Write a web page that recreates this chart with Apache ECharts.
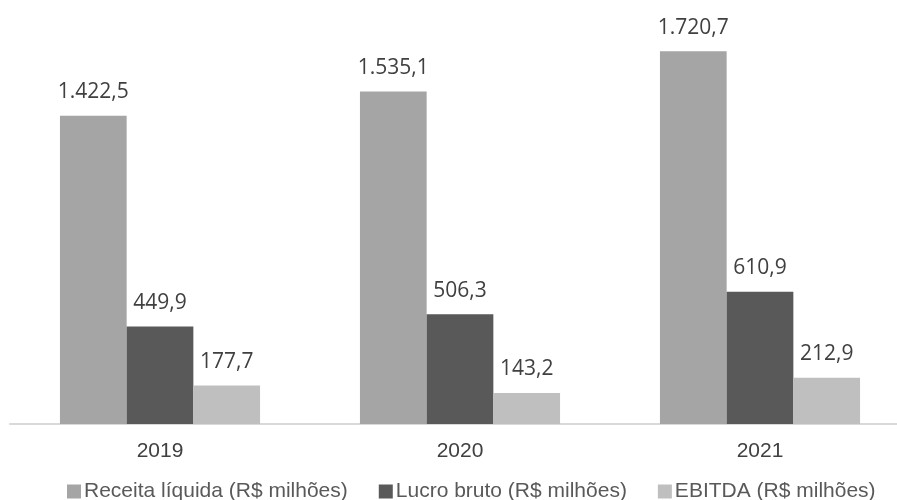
<!DOCTYPE html>
<html><head><meta charset="utf-8">
<script src="https://cdn.jsdelivr.net/npm/echarts@6/dist/echarts.min.js"></script>
<style>html,body{margin:0;padding:0;background:#fff}#c{width:897px;height:500px}</style>
</head><body><div id="c"></div>
<script>
const categories = ['2019', '2020', '2021'];
const seriesNames = ['Receita líquida (R$ milhões)', 'Lucro bruto (R$ milhões)', 'EBITDA (R$ milhões)'];
const receita = [1422.5, 1535.1, 1720.7];
const lucro = [449.9, 506.3, 610.9];
const ebitda = [177.7, 143.2, 212.9];
const colors = ['#a5a5a5', '#595959', '#bfbfbf'];

function fmt(v) {
  const parts = v.toFixed(1).split('.');
  const int = parts[0].replace(/\B(?=(\d{3})+(?!\d))/g, '.');
  return int + ',' + parts[1];
}
const chart = echarts.init(document.getElementById('c'), null, {renderer: 'canvas'});
const mk = (name, data, color) => ({
  name, type: 'bar', data, barGap: '0%', barCategoryGap: '33.3%',
  itemStyle: {color},
  label: {show: true, position: 'top', distance: 13, formatter: p => fmt(p.value),
    fontFamily: 'Open Sans', fontSize: 21, color: '#404040'}
});
chart.setOption({
  animation: false,
  grid: {left: 10, width: 900, top: 34, height: 390, outerBoundsMode: 'none', containLabel: false},
  legend: {top: 476, left: 62, icon: 'rect', itemWidth: 14, itemHeight: 14, itemGap: 31,
    textStyle: {fontFamily: 'Liberation Sans', fontSize: 21, color: '#595959', padding: [0, 0, 0, -2]}},
  xAxis: {type: 'category', data: categories,
    axisLine: {lineStyle: {color: '#d9d9d9', width: 2}}, axisTick: {show: false},
    axisLabel: {fontFamily: 'Liberation Sans', fontSize: 21, color: '#404040', margin: 17}},
  yAxis: {type: 'value', min: 0, max: 1800, show: false, splitLine: {show: false}},
  series: [mk(seriesNames[0], receita, colors[0]), mk(seriesNames[1], lucro, colors[1]), mk(seriesNames[2], ebitda, colors[2])]
});
</script></body></html>
